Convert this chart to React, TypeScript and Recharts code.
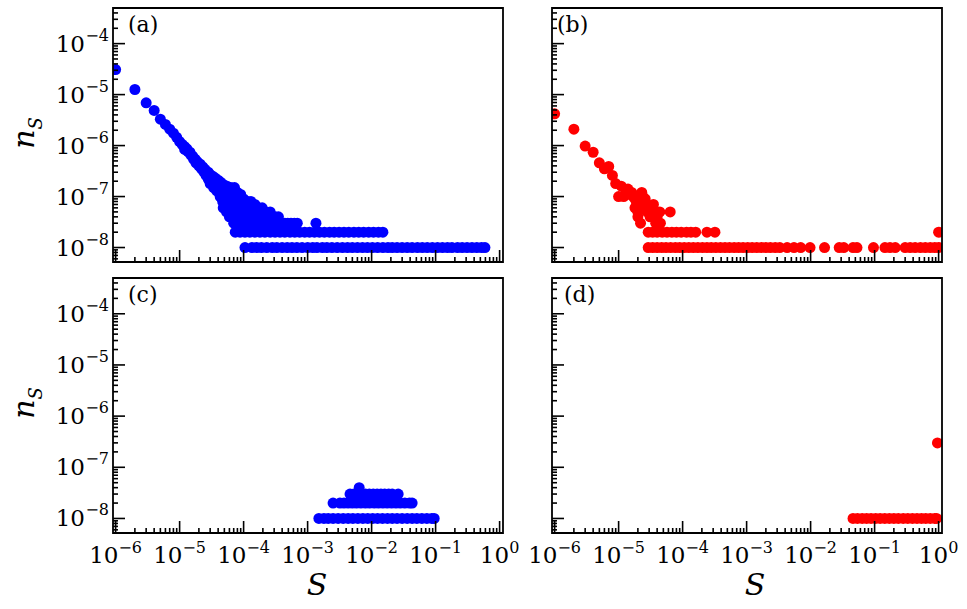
import React from "react";
import { ScatterChart, Scatter, XAxis, YAxis, ReferenceArea } from "recharts";

const SERIF = "'DejaVu Serif', 'Liberation Serif', serif";
const BLUE = "#0000ff";
const RED = "#ff0000";

// axis ranges (log)
const X_MIN = 9.1e-7;
const X_MAX = 1.13;
const Y_MIN = 5.2e-9;
const Y_MAX = 5e-4;

const xDecades = [1e-6, 1e-5, 1e-4, 1e-3, 1e-2, 1e-1, 1];
const xExponents = ["−6", "−5", "−4", "−3", "−2", "−1", "0"];
const yDecades = [1e-9, 1e-8, 1e-7, 1e-6, 1e-5, 1e-4];
const yExponents = ["−9", "−8", "−7", "−6", "−5", "−4"];
const minorSteps = [1, 2, 3, 4, 5, 6, 7, 8, 9];

// (a) blue, scattered points [S, n_S]
const aPoints: [number, number][] = [
  [1e-6, 3.1e-5], [2e-6, 1.26e-5], [3e-6, 6.9e-6], [4e-6, 4.9e-6], [5e-6, 3.3e-6],
  [6e-6, 2.6e-6], [7e-6, 2.1e-6], [8e-6, 1.75e-6], [9e-6, 1.45e-6], [1e-5, 1.2e-6],
  [1.1e-5, 1.05e-6], [1.2e-5, 9.5e-7], [1.2e-5, 8.4e-7], [1.3e-5, 8.6e-7], [1.35e-5, 7.6e-7],
  [1.45e-5, 7.4e-7], [1.5e-5, 6.5e-7], [1.6e-5, 6.2e-7], [1.65e-5, 5.4e-7], [1.75e-5, 5.4e-7],
  [1.8e-5, 4.6e-7], [1.9e-5, 4.8e-7], [2.0e-5, 4.0e-7], [2.1e-5, 4.3e-7], [2.2e-5, 3.5e-7],
  [2.3e-5, 3.8e-7], [2.4e-5, 3.0e-7], [2.5e-5, 3.4e-7], [2.6e-5, 2.6e-7], [2.8e-5, 3.0e-7],
  [2.8e-5, 2.2e-7], [3.0e-5, 2.7e-7], [3.0e-5, 1.8e-7], [3.3e-5, 2.5e-7], [3.3e-5, 1.9e-7],
  [3.4e-5, 1.5e-7], [3.6e-5, 2.3e-7], [3.7e-5, 1.7e-7], [3.8e-5, 1.3e-7], [4.0e-5, 2.1e-7],
  [4.1e-5, 1.5e-7], [4.3e-5, 1.0e-7], [4.4e-5, 1.9e-7], [4.6e-5, 1.3e-7], [4.7e-5, 8e-8],
  [4.8e-5, 6e-8], [4.9e-5, 1.7e-7], [5.2e-5, 1.2e-7], [5.3e-5, 9e-8], [5.4e-5, 5e-8],
  [5.5e-5, 1.6e-7], [5.8e-5, 1.1e-7], [5.9e-5, 7e-8], [6.0e-5, 4e-8], [6.3e-5, 1.5e-7],
  [6.5e-5, 1.0e-7], [6.6e-5, 6e-8], [6.8e-5, 4e-8], [7.2e-5, 1.5e-7], [7.3e-5, 1.1e-7],
  [7.4e-5, 8e-8], [7.6e-5, 5e-8], [8.0e-5, 1.2e-7], [8.2e-5, 9e-8], [8.4e-5, 6e-8],
  [8.6e-5, 4e-8], [9.0e-5, 1.1e-7], [9.3e-5, 7e-8], [9.6e-5, 5e-8], [1.0e-4, 9e-8],
  [1.05e-4, 6e-8], [1.08e-4, 4e-8], [1.15e-4, 8e-8], [1.2e-4, 5e-8], [1.3e-4, 8e-8],
  [1.35e-4, 6e-8], [1.4e-4, 4e-8], [1.5e-4, 7e-8], [1.6e-4, 5e-8], [1.7e-4, 6e-8],
  [1.8e-4, 4e-8], [1.95e-4, 6e-8], [2.1e-4, 5e-8], [2.25e-4, 5e-8], [2.4e-4, 4e-8],
  [2.6e-4, 5e-8], [2.8e-4, 4e-8], [3.1e-4, 4e-8], [3.5e-4, 4e-8],
];
// (a) S values sitting on the n_S = 3e-8, 2e-8, 1e-8 levels
const aRow3 = [7e-5, 8e-5, 9e-5, 1.0e-4, 1.12e-4, 1.25e-4, 1.4e-4, 1.57e-4, 1.75e-4, 1.95e-4,
  2.2e-4, 2.45e-4, 2.75e-4, 3.1e-4, 3.45e-4, 3.9e-4, 4.4e-4, 4.9e-4, 5.5e-4, 6.2e-4, 6.9e-4, 1.35e-3];
const aRow2 = [7.4e-5, 8.8e-5, 1.05e-4, 1.25e-4, 1.5e-4, 1.8e-4, 2.15e-4, 2.6e-4, 3.1e-4, 3.7e-4,
  4.4e-4, 5.3e-4, 6.3e-4, 7.5e-4, 9e-4, 1.07e-3, 1.28e-3, 1.53e-3, 1.83e-3, 2.2e-3, 2.6e-3,
  3.1e-3, 3.7e-3, 4.4e-3, 5.3e-3, 6.3e-3, 7.5e-3, 9e-3, 1.07e-2, 1.28e-2, 1.5e-2];
const aRow1 = [1.05e-4, 1.35e-4, 1.6e-4, 1.9e-4, 2.3e-4, 2.8e-4, 3.3e-4, 4e-4, 4.8e-4, 5.7e-4,
  6.8e-4, 8.2e-4, 1e-3, 1.2e-3, 1.4e-3, 1.7e-3, 2e-3, 2.4e-3, 2.9e-3, 3.5e-3, 4.2e-3, 5e-3,
  6e-3, 7.2e-3, 8.6e-3, 1.03e-2, 1.24e-2, 1.5e-2, 1.8e-2, 2.1e-2, 2.5e-2, 3e-2, 3.6e-2,
  4.3e-2, 5.2e-2, 6.2e-2, 7.4e-2, 8.9e-2, 0.107, 0.128, 0.153, 0.18, 0.22, 0.26, 0.31, 0.37,
  0.44, 0.52, 0.59];

// (b) red
const bPoints: [number, number][] = [
  [1e-6, 4.2e-6], [2e-6, 2.1e-6], [3e-6, 9.8e-7], [4e-6, 7.4e-7], [5e-6, 4.6e-7],
  [6e-6, 3.5e-7], [7e-6, 3.9e-7], [8e-6, 2.6e-7], [9e-6, 1.8e-7], [1e-5, 1e-7],
  [1.1e-5, 1.6e-7], [1.2e-5, 1e-7], [1.3e-5, 1.2e-7], [1.4e-5, 1.4e-7], [1.5e-5, 1.1e-7],
  [1.6e-5, 1.2e-7], [1.7e-5, 1e-7], [1.8e-5, 9e-8], [1.8e-5, 6e-8], [1.9e-5, 7e-8],
  [2e-5, 8e-8], [2e-5, 5e-8], [2e-5, 4e-8], [2.2e-5, 1.1e-7], [2.2e-5, 3e-8],
  [2.3e-5, 1.2e-7], [2.4e-5, 1e-7], [2.5e-5, 6e-8], [2.6e-5, 9e-8], [2.7e-5, 7e-8],
  [2.8e-5, 5e-8], [3e-5, 6e-8], [3.1e-5, 4e-8], [3.3e-5, 5e-8], [3.5e-5, 7e-8],
  [3.8e-5, 3e-8], [4e-5, 4e-8], [4.4e-5, 5e-8], [4.5e-5, 3e-8], [6.4e-5, 5e-8],
  [1.0, 2e-8],
];
const bRow2 = [2.9e-5, 3.4e-5, 4e-5, 4.8e-5, 5.7e-5, 6.8e-5, 8e-5, 9.5e-5, 1.15e-4, 1.35e-4,
  1.6e-4, 2.4e-4, 3.2e-4];
const bRow1 = [2.9e-5, 3.4e-5, 4e-5, 4.7e-5, 5.5e-5, 6.5e-5, 7.7e-5, 9e-5, 1.06e-4, 1.25e-4,
  1.47e-4, 1.73e-4, 2.04e-4, 2.4e-4, 2.8e-4, 3.3e-4, 3.9e-4, 4.6e-4, 5.4e-4, 6.4e-4, 7.5e-4,
  8.8e-4, 1.04e-3, 1.22e-3, 1.44e-3, 1.7e-3, 2e-3, 2.35e-3, 2.8e-3, 3.3e-3, 4.3e-3, 5.5e-3,
  7e-3, 9.8e-3, 1.65e-2, 2.8e-2, 3.3e-2, 4.6e-2, 5.3e-2, 9.6e-2, 0.145, 0.174, 0.21, 0.3,
  0.36, 0.43, 0.52, 0.62, 0.74, 0.87, 1.0];

// (c) blue
const cPoints: [number, number][] = [[6.4e-3, 4e-8]];
const cRow3 = [4.6e-3, 5.3e-3, 6.1e-3, 7e-3, 8e-3, 9.2e-3, 1.06e-2, 1.22e-2, 1.4e-2, 1.6e-2,
  1.85e-2, 2.1e-2, 2.6e-2];
const cRow2 = [2.5e-3, 3.2e-3, 3.7e-3, 4.3e-3, 5e-3, 5.8e-3, 6.8e-3, 8e-3, 9.3e-3, 1.1e-2,
  1.28e-2, 1.5e-2, 1.75e-2, 2.05e-2, 2.4e-2, 2.8e-2, 3.3e-2, 3.9e-2, 4.3e-2];
const cRow1 = [1.5e-3, 1.8e-3, 2.1e-3, 2.5e-3, 3e-3, 3.6e-3, 4.3e-3, 5.1e-3, 6.1e-3, 7.3e-3,
  8.7e-3, 1.04e-2, 1.24e-2, 1.48e-2, 1.77e-2, 2.1e-2, 2.5e-2, 3e-2, 3.6e-2, 4.3e-2, 5.1e-2,
  6.1e-2, 7.3e-2, 8.7e-2, 9.5e-2];

// (d) red
const dPoints: [number, number][] = [[0.96, 3e-7]];
const dRow1 = [4.6e-2, 5.4e-2, 6.4e-2, 7.5e-2, 8.8e-2, 0.104, 0.122, 0.144, 0.17, 0.2, 0.235,
  0.28, 0.33, 0.39, 0.46, 0.54, 0.63, 0.74, 0.87, 0.93];

const toData = (pts: [number, number][], rows: [number[], number][]) => [
  ...pts.map(([s, n]) => ({ s, n })),
  ...rows.flatMap(([list, level]) => list.map((s) => ({ s, n: level }))),
];

const makeTicks = (decades: number[], lo: number, hi: number) =>
  decades.flatMap((d) => minorSteps.map((k) => k * d)).filter((v) => v > lo && v < hi);

const xTicks = makeTicks(xDecades, X_MIN, X_MAX);
const yTicks = makeTicks(yDecades, Y_MIN, Y_MAX);

const decadeIndex = (v: number, decades: number[]) =>
  decades.findIndex((d) => Math.abs(v / d - 1) < 1e-6);

function XTick(props: any) {
  const { x, y, payload, showLabel } = props;
  const i = decadeIndex(payload.value, xDecades);
  const major = i >= 0;
  return (
    <g>
      <line x1={x} x2={x} y1={y} y2={y - (major ? 12 : 5)} stroke="#000" strokeWidth={1.6} />
      {major && showLabel && (
        <text x={x} y={y + 30} textAnchor="middle" fontFamily={SERIF} fontSize={23} fill="#000">
          10<tspan dy={-10} fontSize={16}>{xExponents[i]}</tspan>
        </text>
      )}
    </g>
  );
}

function YTick(props: any) {
  const { x, y, payload, showLabel } = props;
  const i = decadeIndex(payload.value, yDecades);
  const major = i >= 0;
  return (
    <g>
      <line x1={x} x2={x + (major ? 12 : 5)} y1={y} y2={y} stroke="#000" strokeWidth={1.6} />
      {major && showLabel && (
        <text x={x - 28} y={y + 8} textAnchor="end" fontFamily={SERIF} fontSize={23} fill="#000">
          10
        </text>
      )}
      {major && showLabel && (
        <text x={x - 4} y={y - 3} textAnchor="end" fontFamily={SERIF} fontSize={16} fill="#000">
          {yExponents[i]}
        </text>
      )}
    </g>
  );
}

// axes are 1px wide/high so that they still render; margins account for it
function Panel({ data, color, width, height, margin, showX, showY }: any) {
  return (
    <ScatterChart width={width} height={height} margin={margin}>
      <XAxis
        dataKey="s"
        type="number"
        scale="log"
        domain={[X_MIN, X_MAX]}
        allowDataOverflow
        ticks={xTicks}
        interval={0}
        height={1}
        tickSize={0}
        tickMargin={0}
        axisLine={false}
        tickLine={false}
        tick={(p: any) => <XTick {...p} showLabel={showX} />}
      />
      <YAxis
        dataKey="n"
        type="number"
        scale="log"
        domain={[Y_MIN, Y_MAX]}
        allowDataOverflow
        ticks={yTicks}
        interval={0}
        width={1}
        tickSize={0}
        tickMargin={0}
        axisLine={false}
        tickLine={false}
        tick={(p: any) => <YTick {...p} showLabel={showY} />}
      />
      <Scatter
        data={data}
        isAnimationActive={false}
        shape={(p: any) => <circle cx={p.cx} cy={p.cy} r={5.5} fill={color} />}
      />
      <ReferenceArea
        x1={X_MIN}
        x2={X_MAX}
        y1={Y_MIN}
        y2={Y_MAX}
        fill="none"
        fillOpacity={0}
        stroke="#000"
        strokeWidth={1.8}
        ifOverflow="visible"
        zIndex={2000}
      />
    </ScatterChart>
  );
}

const dataA = toData(aPoints, [[aRow3, 3e-8], [aRow2, 2e-8], [aRow1, 1e-8]]);
const dataB = toData(bPoints, [[bRow2, 2e-8], [bRow1, 1e-8]]);
const dataC = toData(cPoints, [[cRow3, 3e-8], [cRow2, 2e-8], [cRow1, 1e-8]]);
const dataD = toData(dPoints, [[dRow1, 1e-8]]);

const abs = (left: number, top: number): React.CSSProperties => ({ position: "absolute", left, top });

function YTitle({ cy }: { cy: number }) {
  return (
    <text transform="rotate(-90)" x={-cy} y={34} textAnchor="middle" fontFamily={SERIF} fontStyle="italic" fontSize={30}>
      n<tspan dy={8} fontSize={18}>S</tspan>
    </text>
  );
}

export default function App() {
  return (
    <div style={{ position: "absolute", left: 0, top: 0, width: 967, height: 609, background: "#fff" }}>
      <div style={abs(0, 0)}>
        <Panel data={dataA} color={BLUE} width={520} height={270} margin={{ top: 8, left: 112, right: 17, bottom: 7 }} showX={false} showY />
      </div>
      <div style={abs(520, 0)}>
        <Panel data={dataB} color={RED} width={447} height={270} margin={{ top: 8, left: 31, right: 25, bottom: 7 }} showX={false} showY={false} />
      </div>
      <div style={abs(0, 270)}>
        <Panel data={dataC} color={BLUE} width={520} height={339} margin={{ top: 8, left: 112, right: 17, bottom: 75 }} showX showY />
      </div>
      <div style={abs(520, 270)}>
        <Panel data={dataD} color={RED} width={447} height={339} margin={{ top: 8, left: 31, right: 25, bottom: 75 }} showX showY={false} />
      </div>
      <svg width={967} height={609} style={{ ...abs(0, 0), pointerEvents: "none" }}>
        <g fontFamily={SERIF} fontSize={22} fill="#000">
          <text x={128} y={32}>(a)</text>
          <text x={557} y={32}>(b)</text>
          <text x={128} y={302}>(c)</text>
          <text x={564} y={302}>(d)</text>
        </g>
        <YTitle cy={133} />
        <YTitle cy={403} />
        <text x={317} y={595} textAnchor="middle" fontFamily={SERIF} fontStyle="italic" fontSize={30}>S</text>
        <text x={755} y={595} textAnchor="middle" fontFamily={SERIF} fontStyle="italic" fontSize={30}>S</text>
      </svg>
    </div>
  );
}
